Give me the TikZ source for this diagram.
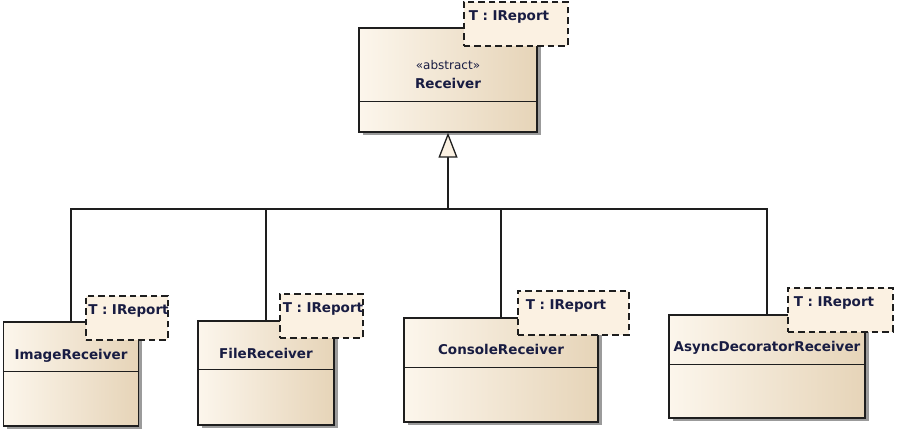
\documentclass[tikz,border=0pt]{standalone}
\usepackage{fontspec}
\setsansfont{DejaVu Sans}
\usepackage{xcolor}
\usepackage{tikz}
\usetikzlibrary{arrows.meta, shadows}
\definecolor{eaink}{RGB}{24,28,66}
\definecolor{ealine}{RGB}{30,30,30}
\definecolor{eapale}{RGB}{252,246,236}
\definecolor{eatan}{RGB}{230,212,184}
\definecolor{eacream}{RGB}{251,241,226}
\definecolor{eashade}{RGB}{155,155,155}

\begin{document}
\begin{tikzpicture}[x=1pt, y=-1pt,
  every node/.style={font=\sffamily\bfseries\fontsize{13.5}{15}\selectfont, text=eaink},
  cls/.style={rectangle, draw=ealine, line width=1.4pt, left color=eapale,
              right color=eatan, minimum height=104pt, inner sep=0pt,
              drop shadow={shadow xshift=3.5pt, shadow yshift=-3.5pt,
                           fill=eashade, opacity=1}},
  tparam/.style={rectangle, draw=ealine, line width=1.8pt,
                 dash pattern=on 6.5pt off 4pt, fill=eacream, anchor=north west,
                 align=left, inner ysep=4pt, text height=15pt, text depth=21pt},
  title/.style={anchor=base},
  conn/.style={draw=ealine, line width=1.3pt},
  gen/.style={conn, -{Triangle[length=25pt, width=19pt, fill=eacream]}},
]
\useasboundingbox (0,0) rectangle (898,430);

\node[cls, minimum width=178pt] (recv)  at (448,80)    {};
\node[cls, minimum width=135pt] (img)   at (71,374)    {};
\node[cls, minimum width=136pt] (file)  at (266,373)   {};
\node[cls, minimum width=194pt] (cons)  at (501,370)   {};
\node[cls, minimum width=196pt, minimum height=103pt] (async) at (767,366.5) {};

\foreach \n/\d in {recv/74pt, img/50pt, file/49pt, cons/50pt, async/50pt}
  \draw[conn] ([yshift=-\d]\n.north west) -- ([yshift=-\d]\n.north east);

\node[title] (recvst)    at (448,69.5) {\mdseries\fontsize{12}{14}\selectfont «abstract»};
\node[title] (recvname)  at (448,89)   {Receiver};
\node[title] (imgname)   at (71,360)   {ImageReceiver};
\node[title] (filename)  at (266,359)  {FileReceiver};
\node[title] (consname)  at (501,355)  {ConsoleReceiver};
\node[title] (asyncname) at (767,352)  {AsyncDecoratorReceiver};

\node[tparam, inner xsep=5pt,   text width=94pt] (recvT)  at (463,1)   {\mbox{T : IReport}};
\node[tparam, inner xsep=2.5pt, text width=77pt] (imgT)   at (85,295)  {\mbox{T : IReport}};
\node[tparam, inner xsep=3pt,   text width=77pt] (fileT)  at (279,293) {\mbox{T : IReport}};
\node[tparam, inner xsep=8pt,   text width=95pt] (consT)  at (517,290) {\mbox{T : IReport}};
\node[tparam, inner xsep=6pt,   text width=93pt] (asyncT) at (787,287) {\mbox{T : IReport}};

\coordinate (hub) at (448,209);
\draw[conn] (img.north)   |- (hub);
\draw[conn] (file.north)  |- (hub);
\draw[conn] (cons.north)  |- (hub);
\draw[conn] (async.north) |- (hub);
\draw[gen]  (hub) -- (recv.south);

\end{tikzpicture}
\end{document}
